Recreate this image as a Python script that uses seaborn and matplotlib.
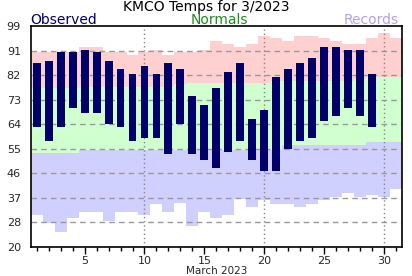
import numpy as np
import matplotlib
matplotlib.use("Agg")
import matplotlib.pyplot as plt
import seaborn as sns

days = list(range(1, 32))
obs_days = list(range(1, 30))
obs_hi = [86, 87, 90, 90, 91, 90, 87, 84, 82, 85, 82, 86, 84, 74, 71, 77, 83, 86, 66, 69,
          81, 84, 86, 88, 92, 92, 91, 91, 82]
obs_lo = [63, 58, 63, 70, 68, 68, 64, 63, 58, 59, 59, 53, 64, 53, 51, 48, 54, 58, 51, 47,
          47, 55, 58, 59, 65, 67, 70, 67, 63]
rec_hi = [90, 90, 90, 90, 92, 92, 90, 90, 89, 90, 91, 89, 90, 90, 91, 94, 93, 92, 93, 96,
          95, 94, 96, 96, 95, 94, 93, 93, 95, 97, 95]
norm_hi = [77, 77, 77, 77, 77.5, 77.5, 77.5, 77.5, 77.5, 77.5, 77.5, 77.5, 78.5, 79, 79, 79,
           79, 79, 79, 79, 79.7, 79.7, 79.7, 79.7, 79.7, 79.7, 79.7, 80.3, 81, 81, 81]
norm_lo = [53.5, 53.5, 53.5, 53.5, 54.7, 54.7, 54.7, 54.7, 54.7, 54.7, 54.7, 54.7, 54.7, 54.7,
           54.7, 54.7, 54.7, 54.7, 54.7, 54.7, 54.7, 56.4, 56.4, 56.4, 56.4, 56.4, 56.4, 56.4,
           57.6, 57.6, 57.6]
rec_lo = [31, 28, 25, 30, 32, 32, 29, 32, 32, 31, 35, 32, 35.5, 27, 32, 30, 31, 37, 34, 36.5,
          35, 35, 34, 35, 36.5, 37.5, 39, 37.5, 38.5, 37.5, 40.5]
ytick_labels = ["20", "28", "37", "46", "55", "64", "73", "82", "91", "99"]
xtick_vals = [5, 10, 15, 20, 25, 30]

sns.set_style("white")
plt.rcParams['font.family'] = ['DejaVu Sans']

fig = plt.figure(figsize=(4.12, 2.76), dpi=100)
ax = fig.add_axes([30.7/412, 1 - 246.7/276, (402 - 30.7)/412, (246.7 - 26.3)/276])

ymin, ymax = 19.6, 99.4
edges = np.arange(0.5, 32.5, 1.0)

def ext(a):
    a = np.asarray(a, dtype=float)
    return np.append(a, a[-1])

ax.fill_between(edges, ext(norm_hi), ext(rec_hi), step='post', color='#ffd0d0', lw=0, zorder=1)
ax.fill_between(edges, ext(norm_lo), ext(norm_hi), step='post', color='#d0ffd0', lw=0, zorder=1)
ax.fill_between(edges, ext(rec_lo), ext(norm_lo), step='post', color='#d0d0ff', lw=0, zorder=1)

yt = np.linspace(ymin, ymax, 10)
for y in yt[1:-1]:
    ax.axhline(y, color='#999999', lw=1.0, ls=(0, (4, 3)), zorder=2)
for x in [10, 20, 30]:
    ax.axvline(x, color='#888888', lw=1.0, ls=(0, (1, 2)), zorder=2)

hi = np.array(obs_hi, dtype=float)
lo = np.array(obs_lo, dtype=float)
ax.bar(obs_days, hi - lo, bottom=lo, width=0.66, color='#00006b', lw=0, zorder=3)

ax.set_xlim(0.5, 31.5)
ax.set_ylim(ymin, ymax)
ax.set_yticks(yt)
ax.set_yticklabels(ytick_labels, fontsize=8)
ax.set_xticks(xtick_vals)
ax.set_xticklabels([str(v) for v in xtick_vals], fontsize=8)
ax.set_xticks(days, minor=True)
ax.tick_params(axis='y', length=0, pad=7)
ax.tick_params(axis='x', which='major', length=5, width=1, direction='out', pad=2, color='black')
ax.tick_params(axis='x', which='minor', length=3, width=1, direction='out', color='black')
ax.xaxis.set_ticks_position('bottom')
for s in ax.spines.values():
    s.set_visible(True)
    s.set_color('black')
    s.set_linewidth(1.2)
ax.set_xlabel("March 2023", fontsize=7.5, labelpad=0)

fig.text(0.5, 1 - 11.3/276, "KMCO Temps for 3/2023", ha='center', va='baseline', fontsize=10, color='black')
fig.text(30.7/412, 1 - 24/276, "Observed", ha='left', va='baseline', fontsize=10, color='#00006b')
fig.text(219/412, 1 - 24.3/276, "Normals", ha='center', va='baseline', fontsize=10, color='#1e8a1e')
fig.text(399/412, 1 - 24/276, "Records", ha='right', va='baseline', fontsize=10, color='#b4a0ec')

fig.savefig("out.png", dpi=100)
